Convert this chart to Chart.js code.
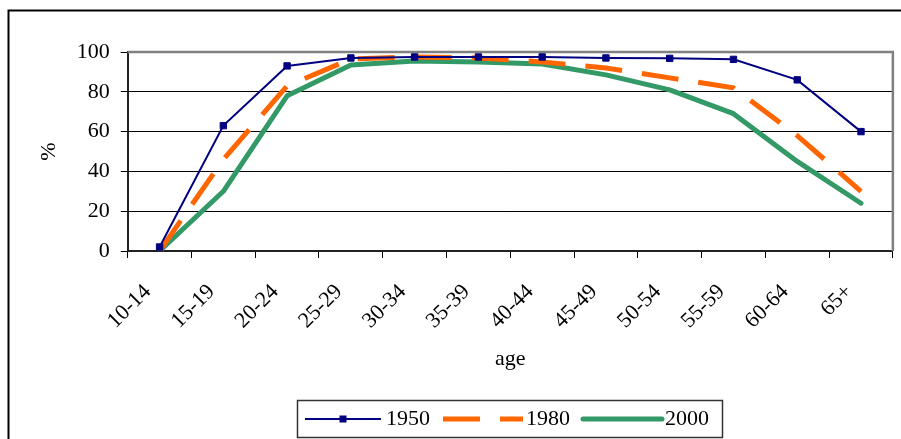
<!DOCTYPE html>
<html>
<head>
<meta charset="utf-8">
<script src="https://cdn.jsdelivr.net/npm/chart.js@4"></script>
<style>
    body { margin: 0; background: #fff; }
    #wrap { width: 901px; height: 439px; position: relative; }
</style>
</head>
<body>
<div id="wrap"><canvas id="ageChart"></canvas></div>
<script>
// данные графика
const ageGroups = ['10-14', '15-19', '20-24', '25-29', '30-34', '35-39', '40-44', '45-49', '50-54', '55-59', '60-64', '65+'];
const values1950 = [2, 63, 93, 97, 97.5, 97.5, 97.5, 97, 96.8, 96.3, 86, 60];
const values1980 = [0, 46, 83, 96.5, 97.5, 97, 95, 92, 87, 82, 58, 30];
const values2000 = [0, 30, 78, 93.5, 95.5, 95, 94, 88.5, 81, 69, 45, 24];
const seriesNames = ['1950', '1980', '2000'];

const FONT = 'Liberation Serif, Times New Roman, serif';

// рамка всей диаграммы, рамка области построения и легенда
const framePlugin = {
    id: 'frame',
    beforeDraw(chart) {
        const ctx = chart.ctx;
        ctx.save();
        ctx.fillStyle = '#fff';
        ctx.fillRect(0, 0, chart.width, chart.height);
        ctx.strokeStyle = '#000';
        ctx.lineWidth = 2;
        ctx.strokeRect(8.5, 10.5, chart.width + 20, chart.height + 20);
        ctx.restore();
    },
    beforeDatasetsDraw(chart) {
        const { ctx, chartArea: a } = chart;
        ctx.save();
        ctx.strokeStyle = '#808080';
        ctx.lineWidth = 2.5;
        ctx.beginPath();
        ctx.moveTo(a.left, a.top);
        ctx.lineTo(a.right, a.top);
        ctx.lineTo(a.right, a.bottom);
        ctx.stroke();
        ctx.restore();
    },
    afterDraw(chart) {
        const ctx = chart.ctx;
        const ds = chart.data.datasets;
        ctx.save();
        ctx.strokeStyle = '#333';
        ctx.lineWidth = 1.5;
        ctx.strokeRect(297.5, 400.5, 425, 37);

        const y = 419;
        const items = [
            { x1: 305, x2: 381, tx: 386 },
            { x1: 443, x2: 523, tx: 526 },
            { x1: 583, x2: 662, tx: 665 }
        ];
        items.forEach((it, i) => {
            const d = ds[i];
            ctx.save();
            ctx.strokeStyle = d.borderColor;
            ctx.lineWidth = d.borderWidth;
            ctx.lineCap = i === 2 ? 'round' : 'butt';
            ctx.setLineDash(d.borderDash || []);
            ctx.beginPath();
            ctx.moveTo(it.x1, y);
            ctx.lineTo(it.x2, y);
            ctx.stroke();
            ctx.restore();
            if (d.pointRadius > 0) {
                ctx.fillStyle = d.pointBackgroundColor;
                ctx.fillRect((it.x1 + it.x2) / 2 - 3.5, y - 3.5, 7, 7);
            }
            ctx.fillStyle = '#000';
            ctx.font = '22px ' + FONT;
            ctx.textBaseline = 'middle';
            ctx.textAlign = 'left';
            ctx.fillText(d.label, it.tx, y);
        });
        ctx.restore();
    }
};

const ctx = document.getElementById('ageChart');

new Chart(ctx, {
    type: 'line',
    data: {
        labels: ageGroups,
        datasets: [
            {
                label: seriesNames[0],
                data: values1950,
                borderColor: '#000080',
                backgroundColor: '#000080',
                borderWidth: 2,
                pointStyle: 'rect',
                pointRadius: 4.5,
                pointBorderWidth: 1,
                pointBackgroundColor: '#000080',
                pointBorderColor: '#000080',
                tension: 0
            },
            {
                label: seriesNames[1],
                data: values1980,
                borderColor: '#FF6600',
                backgroundColor: '#FF6600',
                borderWidth: 5,
                borderDash: [37, 20],
                borderCapStyle: 'butt',
                pointRadius: 0,
                tension: 0
            },
            {
                label: seriesNames[2],
                data: values2000,
                borderColor: '#339966',
                backgroundColor: '#339966',
                borderWidth: 5,
                borderCapStyle: 'round',
                borderJoinStyle: 'round',
                pointRadius: 0,
                tension: 0
            }
        ]
    },
    options: {
        responsive: true,
        maintainAspectRatio: false,
        animation: false,
        layout: { padding: { top: 52, right: 8, left: 0, bottom: 0 } },
        plugins: {
            legend: { display: false },
            tooltip: { enabled: false }
        },
        scales: {
            x: {
                offset: true,
                grid: {
                    offset: true,
                    drawOnChartArea: false,
                    drawTicks: true,
                    tickLength: 7,
                    tickColor: '#000',
                    tickWidth: 1
                },
                border: { display: true, color: '#222', width: 2 },
                ticks: {
                    autoSkip: false,
                    minRotation: 45,
                    maxRotation: 45,
                    labelOffset: -12,
                    padding: 21,
                    color: '#000',
                    font: { family: FONT, size: 22 }
                },
                title: {
                    display: true,
                    text: 'age',
                    color: '#000',
                    font: { family: FONT, size: 22 },
                    padding: { top: 0, bottom: 67 }
                },
                afterFit(scale) { scale.height = 188; }
            },
            y: {
                min: 0,
                max: 100,
                grid: {
                    color: c => (c.tick && c.tick.value === 100) ? 'rgba(0,0,0,0)' : '#000',
                    lineWidth: 1,
                    drawTicks: true,
                    tickLength: 7,
                    tickColor: '#000'
                },
                border: { display: true, color: '#222', width: 2 },
                ticks: {
                    stepSize: 20,
                    padding: 11,
                    color: '#000',
                    font: { family: FONT, size: 22 }
                },
                title: {
                    display: true,
                    text: '%',
                    color: '#000',
                    font: { family: FONT, size: 22 },
                    padding: { top: 36, bottom: 0 }
                },
                afterFit(scale) { scale.width = 127.7; }
            }
        }
    },
    plugins: [framePlugin]
});
</script>
</body>
</html>
